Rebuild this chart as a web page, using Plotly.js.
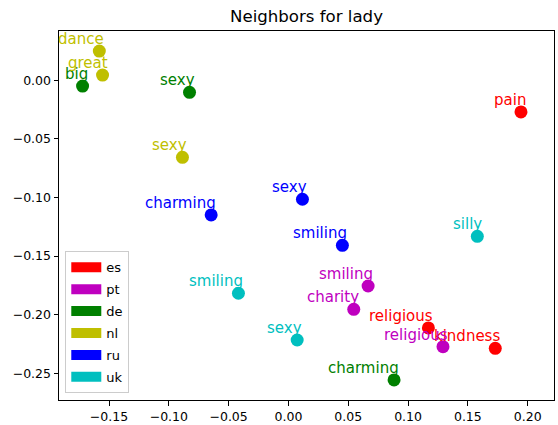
<!DOCTYPE html>
<html>
<head>
<meta charset="utf-8">
<script src="https://cdn.plot.ly/plotly-3.0.1.min.js"></script>
<style>
  html, body { margin: 0; padding: 0; background: #fff; }
  #chart { width: 558px; height: 425px; }
</style>
</head>
<body>
<div id="chart"></div>
<script>
// Nearest neighbours of "lady" in a shared 2-D embedding, per language.
const languages = ['es', 'pt', 'de', 'nl', 'ru', 'uk'];

const esWords = ['pain', 'religious', 'kindness'];
const esX = [0.1944, 0.1170, 0.1729];
const esY = [-0.0270, -0.2113, -0.2287];

const ptWords = ['smiling', 'charity', 'religious'];
const ptX = [0.0666, 0.0546, 0.1292];
const ptY = [-0.1755, -0.1954, -0.2273];

const deWords = ['big', 'sexy', 'charming'];
const deX = [-0.1721, -0.0827, 0.0883];
const deY = [-0.0049, -0.0102, -0.2557];

const nlWords = ['dance', 'great', 'sexy'];
const nlX = [-0.1581, -0.1554, -0.0886];
const nlY = [0.0250, 0.0045, -0.0657];

const ruWords = ['charming', 'sexy', 'smiling'];
const ruX = [-0.0646, 0.0117, 0.0451];
const ruY = [-0.1149, -0.1015, -0.1408];

const ukWords = ['silly', 'smiling', 'sexy'];
const ukX = [0.1579, -0.0418, 0.0073];
const ukY = [-0.1331, -0.1817, -0.2216];

const xTicks = [-0.15, -0.10, -0.05, 0.00, 0.05, 0.10, 0.15, 0.20];
const yTicks = [-0.25, -0.20, -0.15, -0.10, -0.05, 0.00];

// Styling
const langColors = ['#ff0000', '#bf00bf', '#008000', '#bfbf00', '#0000ff', '#00bfbf'];
const FONT = 'DejaVu Sans, sans-serif';

const series = [
  [esWords, esX, esY],
  [ptWords, ptX, ptY],
  [deWords, deX, deY],
  [nlWords, nlX, nlY],
  [ruWords, ruX, ruY],
  [ukWords, ukX, ukY]
];

const traces = [];
const annotations = [];

series.forEach(([words, xs, ys], i) => {
  const color = langColors[i];
  // the points themselves
  traces.push({
    type: 'scatter', mode: 'markers',
    x: xs, y: ys, text: words,
    marker: { color: color, size: 13, line: { width: 0 } },
    showlegend: false, hoverinfo: 'text'
  });
  // word labels sit above-left of each point
  words.forEach((w, k) => {
    annotations.push({
      x: xs[k], y: ys[k], xref: 'x', yref: 'y',
      text: w, showarrow: false,
      xanchor: 'right', yanchor: 'bottom',
      xshift: 6, yshift: 2, borderpad: 0,
      font: { family: FONT, size: 15, color: color }
    });
  });
});

// legend entries drawn as wide colour patches
languages.forEach((lang, i) => {
  traces.push({
    type: 'scatter', mode: 'lines',
    x: [null], y: [null], name: lang,
    legendgroup: lang,
    line: { color: langColors[i], width: 11 },
    hoverinfo: 'skip'
  });
});

const axisCommon = {
  showline: true, mirror: true, linecolor: '#000', linewidth: 1,
  ticks: 'outside', ticklen: 4.5, tickwidth: 1, tickcolor: '#000',
  showgrid: false, zeroline: false,
  tickformat: '.2f',
  tickfont: { family: FONT, size: 12.5, color: '#000' }
};

const layout = {
  width: 558, height: 425,
  margin: { l: 59, r: 4, t: 31, b: 25 },
  paper_bgcolor: '#fff', plot_bgcolor: '#fff',
  title: {
    text: 'Neighbors for lady',
    font: { family: FONT, size: 16.6, color: '#000' },
    x: 0.5, xref: 'paper', xanchor: 'center',
    y: 1 - 16 / 425, yref: 'container', yanchor: 'middle'
  },
  xaxis: Object.assign({}, axisCommon, {
    range: [-0.1918, 0.2220], tickvals: xTicks
  }),
  yaxis: Object.assign({}, axisCommon, {
    range: [-0.2728, 0.0421], tickvals: yTicks
  }),
  showlegend: true,
  legend: {
    x: 0.0127, y: 0.018, xanchor: 'left', yanchor: 'bottom',
    bgcolor: 'rgba(255,255,255,0.8)', bordercolor: '#cccccc', borderwidth: 1,
    font: { family: FONT, size: 13, color: '#000' },
    tracegroupgap: 2, itemwidth: 30
  },
  annotations: annotations
};

Plotly.newPlot('chart', traces, layout, { displayModeBar: false, staticPlot: true });
</script>
</body>
</html>
